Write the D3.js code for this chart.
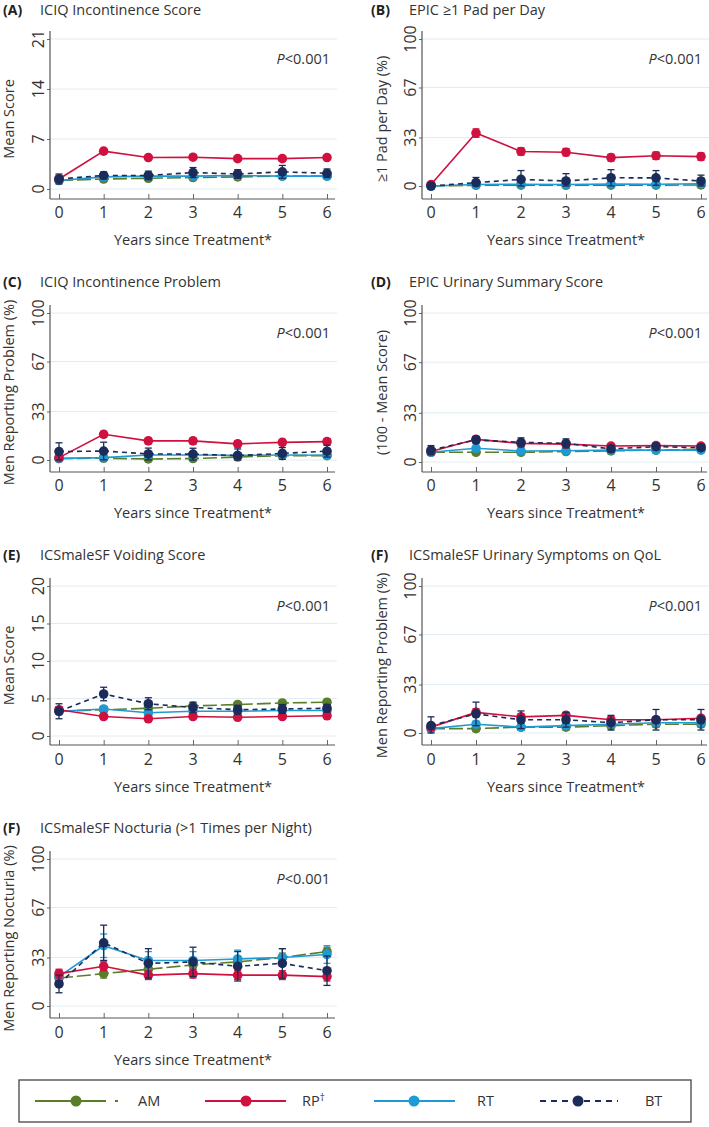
<!DOCTYPE html>
<html><head><meta charset="utf-8">
<script src="https://cdn.jsdelivr.net/npm/d3@7"></script>
<style>
html,body{margin:0;padding:0;background:#fff;}
svg{display:block;font-family:"Open Sans",sans-serif;}
</style></head>
<body>
<svg id="c" width="709" height="1127"></svg>
<script>
// ---- data ----
const years = [0,1,2,3,4,5,6];
const seriesNames = ["AM","RP","RT","BT"];
const seriesColors = ["#5a7d2a","#d0103e","#1e9ad4","#1b2b5a"];
const seriesDash = ["14,4",null,null,"5,4"];

const panelTitles = ["ICIQ Incontinence Score","EPIC \u22651 Pad per Day","ICIQ Incontinence Problem","EPIC Urinary Summary Score","ICSmaleSF Voiding Score","ICSmaleSF Urinary Symptoms on QoL","ICSmaleSF Nocturia (>1 Times per Night)"];
const panelLetters = ["(A)","(B)","(C)","(D)","(E)","(F)","(F)"];
const yTitles = ["Mean Score","\u22651 Pad per Day (%)","Men Reporting Problem (%)","(100 - Mean Score)","Mean Score","Men Reporting Problem (%)","Men Reporting Nocturia (%)"];
const xTitle = "Years since Treatment*";
const pText = "<0.001";
const ticksScore21 = [0,7,14,21];
const ticksPct = [0,33,67,100];
const ticksScore20 = [0,5,10,15,20];

// (A) ICIQ score
const A_AM = [1.2,1.4,1.5,1.6,1.7,1.8,1.8], A_AM_err = [0.3,0.3,0.3,0.3,0.3,0.3,0.3];
const A_RP = [1.4,5.3,4.4,4.45,4.25,4.25,4.4], A_RP_err = [0.4,0.25,0.25,0.25,0.25,0.25,0.25];
const A_RT = [1.2,1.7,1.8,1.8,1.9,1.8,1.8], A_RT_err = [0.3,0.3,0.3,0.3,0.3,0.3,0.3];
const A_BT = [1.4,1.9,1.9,2.3,2.1,2.4,2.2], A_BT_err = [0.7,0.5,0.6,0.7,0.6,0.9,0.6];
// (B) >=1 pad
const B_AM = [0,0.5,0.6,0.5,0.6,0.6,0.7], B_AM_err = [0.5,0.6,0.6,0.6,0.6,0.6,0.6];
const B_RP = [1,36,23.5,23,19.3,20.6,20], B_RP_err = [1,2.8,2.5,2.5,2.3,2.5,2.5];
const B_RT = [0,1,1.2,1,1.3,1.2,1.5], B_RT_err = [0.5,0.8,0.8,0.8,0.8,0.8,0.8];
const B_BT = [0,2.3,4.5,3.4,5.6,5.5,3.4], B_BT_err = [0.5,3.5,6,5,5.5,5,4];
// (C) ICIQ problem
const C_AM = [1,1.2,0.7,1,2,3,3], C_AM_err = [1.2,1.2,1.2,1.2,1.2,1.2,1.2];
const C_RP = [1.6,17.5,13,13,11,12,12.5], C_RP_err = [1.5,2,2,2,2,2,2];
const C_RT = [1.1,1.6,3.4,3.4,3.2,3.4,3.2], C_RT_err = [1,1,1,1,1,1,1];
const C_BT = [5.7,6.1,4.1,4,3,4.5,6], C_BT_err = [6,6,4,4,4.5,4,4];
// (D) EPIC urinary summary
const D_AM = [6.5,6.5,6.5,7,7.5,8,8.5], D_AM_err = [0.8,0.8,0.8,0.8,0.8,0.8,0.8];
const D_RP = [7,15.2,12.5,12,10.7,11,10.7], D_RP_err = [1.5,1.5,1.2,1.2,1,1,1];
const D_RT = [6.5,9.2,7.4,7.6,8,8,8], D_RT_err = [0.8,0.8,0.8,0.8,0.8,0.8,0.8];
const D_BT = [8,14.8,13.2,12.5,8.8,10.3,9.6], D_BT_err = [3,2.5,3,3,2,2.2,1.8];
// (E) voiding score
const E_AM = [3.3,3.5,3.7,4.0,4.2,4.4,4.5], E_AM_err = [0.3,0.3,0.3,0.3,0.3,0.3,0.3];
const E_RP = [3.5,2.6,2.3,2.6,2.5,2.6,2.7], E_RP_err = [0.4,0.2,0.2,0.2,0.2,0.2,0.2];
const E_RT = [3.3,3.6,3.1,3.3,3.3,3.4,3.4], E_RT_err = [0.3,0.3,0.3,0.3,0.3,0.3,0.3];
const E_BT = [3.3,5.6,4.3,3.8,3.5,3.6,3.7], E_BT_err = [1,0.9,0.8,0.7,0.6,0.6,0.5];
// (F) QoL
const F_AM = [3,3,4,4,5,6,6], F_AM_err = [2,2,2,2,2,2,2];
const F_RP = [4,14,11,12,9,9,10], F_RP_err = [2,2.5,2,2,2,2,2];
const F_RT = [3,6,4,5,6,7,7], F_RT_err = [2,2,2,2,2,2,2];
const F_BT = [5,13,9,9,7,9,9], F_BT_err = [6,8,6,5,5,7,7];
// (F) nocturia
const G_AM = [19,22,25,28,30,33,37], G_AM_err = [3,3,3,3,3,3,3];
const G_RP = [22,27,21,22,21,21,20], G_RP_err = [3,3,3,3,3,3,3];
const G_RT = [20,41,31,31,32,33,35], G_RT_err = [4,8,6,6,6,6,6];
const G_BT = [15,43,29,30,27,29,24], G_BT_err = [6,12,10,10,10,10,10];

const panelData = [
  {vals:[A_AM,A_RP,A_RT,A_BT], errs:[A_AM_err,A_RP_err,A_RT_err,A_BT_err], ticks:ticksScore21},
  {vals:[B_AM,B_RP,B_RT,B_BT], errs:[B_AM_err,B_RP_err,B_RT_err,B_BT_err], ticks:ticksPct},
  {vals:[C_AM,C_RP,C_RT,C_BT], errs:[C_AM_err,C_RP_err,C_RT_err,C_BT_err], ticks:ticksPct},
  {vals:[D_AM,D_RP,D_RT,D_BT], errs:[D_AM_err,D_RP_err,D_RT_err,D_BT_err], ticks:ticksPct},
  {vals:[E_AM,E_RP,E_RT,E_BT], errs:[E_AM_err,E_RP_err,E_RT_err,E_BT_err], ticks:ticksScore20},
  {vals:[F_AM,F_RP,F_RT,F_BT], errs:[F_AM_err,F_RP_err,F_RT_err,F_BT_err], ticks:ticksPct},
  {vals:[G_AM,G_RP,G_RT,G_BT], errs:[G_AM_err,G_RP_err,G_RT_err,G_BT_err], ticks:ticksPct}
];

// ---- layout ----
const cols = [
  {axisX:50, x0:59, x6:327, gridR:337, letterX:3, titleX:40, yTickX:38, yTitleX:9, pRight:330},
  {axisX:422, x0:431, x6:701, gridR:709, letterX:371, titleX:409, yTickX:410, yTitleX:382, pRight:702}
];
const rows = [
  {titleY:10, top:39, axisY:199, tickY:212, xTitleY:240},
  {titleY:282, top:313, axisY:472, tickY:485, xTitleY:513},
  {titleY:555, top:586, axisY:745, tickY:759, xTitleY:787},
  {titleY:828, top:859, axisY:1018, tickY:1032, xTitleY:1060}
];
const zeroY = [189,186,460,462,736,733,1006];
const drawOrder = [0,2,1,3];

const svg = d3.select("#c");

panelData.forEach((pd, i) => {
  const col = cols[i % 2], row = rows[Math.floor(i / 2)];
  const g = svg.append("g");
  const x = d3.scaleLinear().domain([0,6]).range([col.x0, col.x6]);
  const yMax = pd.ticks[pd.ticks.length-1];
  const y = d3.scaleLinear().domain([0,yMax]).range([zeroY[i], row.top]);

  // title
  g.append("text").attr("x", col.letterX).attr("y", row.titleY).attr("dy","0.35em")
    .attr("font-size",14).attr("font-weight","bold").attr("fill","#222").text(panelLetters[i]);
  g.append("text").attr("x", col.titleX).attr("y", row.titleY).attr("dy","0.35em")
    .attr("font-size",14.5).attr("fill","#333").text(panelTitles[i]);

  // gridlines
  g.selectAll("line.grid").data(pd.ticks).enter().append("line")
    .attr("x1", col.axisX).attr("x2", col.gridR)
    .attr("y1", d => y(d)).attr("y2", d => y(d))
    .attr("stroke","#e2ecf0").attr("stroke-width",1);

  // left axis
  const ya = d3.axisLeft(y).tickValues(pd.ticks).tickSize(3).tickFormat("");
  const yg = g.append("g").attr("transform",`translate(${col.axisX},0)`).call(ya);
  yg.select(".domain").remove();
  yg.selectAll(".tick line").attr("stroke","#666");
  g.append("line").attr("x1",col.axisX).attr("x2",col.axisX)
    .attr("y1", row.top-8).attr("y2", row.axisY).attr("stroke","#555").attr("stroke-width",1.2);
  g.selectAll("text.ytick").data(pd.ticks).enter().append("text")
    .attr("transform", d => `translate(${col.yTickX},${y(d)}) rotate(-90)`)
    .attr("text-anchor","middle").attr("dy","0.35em").attr("font-size",16).attr("fill","#333")
    .text(d => d);
  g.append("text").attr("transform",`translate(${col.yTitleX},${(row.top+row.axisY)/2}) rotate(-90)`)
    .attr("text-anchor","middle").attr("dy","0.35em").attr("font-size",14.5).attr("fill","#333")
    .text(yTitles[i]);

  // bottom axis
  const xa = d3.axisBottom(x).tickValues(years).tickSize(-5).tickPadding(0).tickFormat("");
  const xg = g.append("g").attr("transform",`translate(0,${row.axisY})`).call(xa);
  xg.select(".domain").remove();
  xg.selectAll(".tick line").attr("stroke","#666");
  g.append("line").attr("x1",col.axisX).attr("x2",col.gridR - 2)
    .attr("y1",row.axisY).attr("y2",row.axisY).attr("stroke","#555").attr("stroke-width",1.2);
  g.selectAll("text.xtick").data(years).enter().append("text")
    .attr("x", d => x(d)).attr("y", row.tickY).attr("dy","0.35em")
    .attr("text-anchor","middle").attr("font-size",16).attr("fill","#333").text(d => d);
  g.append("text").attr("x",(col.x0+col.x6)/2).attr("y",row.xTitleY).attr("dy","0.35em")
    .attr("text-anchor","middle").attr("font-size",14.5).attr("fill","#333").text(xTitle);

  // p value
  const pt = g.append("text").attr("x",col.pRight).attr("y",row.top+20).attr("dy","0.35em")
    .attr("text-anchor","end").attr("font-size",14.5).attr("fill","#333");
  pt.append("tspan").attr("font-style","italic").text("P");
  pt.append("tspan").text(pText);

  // series
  drawOrder.forEach(s => {
    const vals = pd.vals[s], errs = pd.errs[s], col_ = seriesColors[s];
    const pts = years.map((yr, k) => ({yr, v: vals[k], e: errs[k]}));
    const line = d3.line().x(d => x(d.yr)).y(d => y(d.v));
    const sg = g.append("g");
    sg.append("path").datum(pts).attr("d", line).attr("fill","none")
      .attr("stroke", col_).attr("stroke-width",1.6)
      .attr("stroke-dasharray", seriesDash[s]);
    sg.selectAll("line.eb").data(pts).enter().append("line")
      .attr("x1", d => x(d.yr)).attr("x2", d => x(d.yr))
      .attr("y1", d => y(Math.max(0, d.v - d.e))).attr("y2", d => y(d.v + d.e))
      .attr("stroke", col_).attr("stroke-width",1.3);
    [1,-1].forEach(sign => {
      sg.selectAll(null).data(pts).enter().append("line")
        .attr("x1", d => x(d.yr)-3.5).attr("x2", d => x(d.yr)+3.5)
        .attr("y1", d => y(Math.max(0, d.v + sign*d.e))).attr("y2", d => y(Math.max(0, d.v + sign*d.e)))
        .attr("stroke", col_).attr("stroke-width",1.3);
    });
    sg.selectAll("circle").data(pts).enter().append("circle")
      .attr("cx", d => x(d.yr)).attr("cy", d => y(d.v)).attr("r",4.8)
      .attr("fill", col_);
  });
});

// ---- legend ----
const legendLine = [[35,119],[205,286],[374,455],[540,618]];
const legendMarker = [76,246,414,578];
const legendTextX = [138,302,477,645];
const legendDash = ["71,9,3",null,null,"6,5"];
const legendY = 1101;
const lg = svg.append("g");
lg.append("rect").attr("x",19).attr("y",1080).attr("width",672).attr("height",42)
  .attr("fill","none").attr("stroke","#444").attr("stroke-width",1.3);
seriesNames.forEach((nm, s) => {
  lg.append("line").attr("x1",legendLine[s][0]).attr("x2",legendLine[s][1])
    .attr("y1",legendY).attr("y2",legendY).attr("stroke",seriesColors[s]).attr("stroke-width",1.8)
    .attr("stroke-dasharray",legendDash[s]);
  lg.append("circle").attr("cx",legendMarker[s]).attr("cy",legendY).attr("r",5.5).attr("fill",seriesColors[s]);
  const t = lg.append("text").attr("x",legendTextX[s]).attr("y",legendY).attr("dy","0.35em")
    .attr("font-size",14.5).attr("fill","#333").text(nm);
  if (nm === "RP") t.append("tspan").attr("font-size",10).attr("dy","-0.5em").text("\u2020");
});
</script>
</body></html>
